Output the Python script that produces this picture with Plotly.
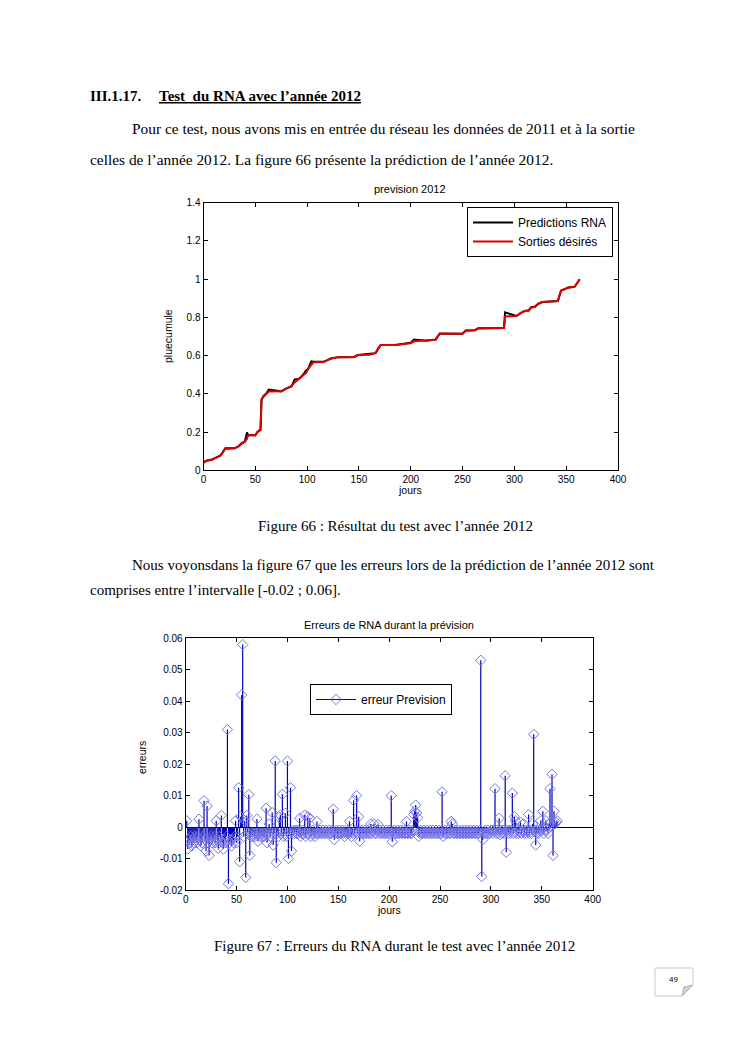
import plotly.graph_objects as go

# ---------------- data: figure 66 (cumulative rain) ----------------
days_cum = [0, 3, 8, 12, 16, 18, 21, 30, 34, 37, 40, 42, 43, 50, 52, 55, 56, 58, 61, 63,
            75, 79, 85, 88, 92, 96, 99, 101, 104, 106, 116, 119, 123, 130, 145, 149, 160, 166, 169, 171,
            185, 192, 200, 203, 215, 224, 228, 250, 253, 262, 265, 290, 291, 302, 306, 310, 314, 316, 320, 323,
            327, 342, 344, 345, 352, 358, 362, 363]
desired = [0.039, 0.05, 0.055, 0.065, 0.075, 0.09, 0.112, 0.115, 0.125, 0.14, 0.15, 0.165, 0.183, 0.183, 0.2, 0.21, 0.37, 0.385, 0.40, 0.412,
           0.413, 0.425, 0.44, 0.46, 0.478, 0.497, 0.51, 0.53, 0.555, 0.565, 0.566, 0.573, 0.585, 0.592, 0.592, 0.603, 0.605, 0.613, 0.64, 0.655,
           0.655, 0.66, 0.665, 0.675, 0.678, 0.683, 0.715, 0.715, 0.73, 0.733, 0.742, 0.745, 0.805, 0.807, 0.822, 0.833, 0.835, 0.852, 0.855, 0.87,
           0.88, 0.885, 0.925, 0.94, 0.955, 0.96, 0.99, 1.0]
predicted = [0.042, 0.05, 0.056, 0.066, 0.076, 0.09, 0.115, 0.115, 0.127, 0.142, 0.152, 0.198, 0.183, 0.183, 0.2, 0.215, 0.37, 0.39, 0.405, 0.422,
             0.413, 0.426, 0.44, 0.476, 0.478, 0.5, 0.522, 0.53, 0.57, 0.568, 0.568, 0.575, 0.585, 0.592, 0.593, 0.603, 0.607, 0.613, 0.642, 0.656,
             0.655, 0.66, 0.668, 0.684, 0.678, 0.685, 0.716, 0.715, 0.732, 0.733, 0.743, 0.745, 0.826, 0.807, 0.823, 0.834, 0.838, 0.852, 0.857, 0.872,
             0.88, 0.886, 0.926, 0.94, 0.956, 0.96, 0.99, 1.0]

# ---------------- data: figure 67 (errors) ----------------
err_days = list(range(1, 366))
errors = [
    0.002, -0.007, -0.004, -0.005, -0.003, -0.006, -0.004, -0.005, -0.003, -0.004,
    -0.005, -0.003, 0.0025, -0.004, -0.006, -0.005, -0.003, 0.0084, -0.004, -0.0076,
    0.0067, -0.005, -0.009, -0.004, -0.003, -0.005, -0.004, -0.003, -0.005, 0.002,
    -0.004, -0.0068, -0.003, -0.004, 0.0037, -0.005, -0.007, -0.004, -0.005, -0.003,
    0.031, -0.018, -0.005, -0.004, -0.006, -0.004, -0.005, -0.003, 0.002, -0.005,
    -0.003, 0.0125, -0.011, 0.0033, 0.042, 0.058, -0.003, 0.002, -0.016, 0.0037,
    -0.002, 0.0103, -0.009, -0.003, -0.002, -0.003, -0.002, -0.003, -0.002, 0.0026,
    -0.0045, -0.002, -0.003, -0.002, -0.003, -0.002, -0.003, -0.002, 0.006, -0.005,
    -0.002, 0.001, -0.003, -0.002, 0.0046, -0.0057, -0.002, 0.021, -0.0113, -0.002,
    -0.003, 0.003, 0.0038, -0.002, 0.0104, -0.003, -0.002, 0.0044, -0.003, 0.021,
    -0.01, -0.002, 0.0125, -0.0076, -0.002, -0.001, -0.002, -0.001, -0.002, -0.001,
    -0.002, 0.0028, -0.003, -0.002, -0.001, -0.002, 0.0038, -0.003, -0.002, 0.0033,
    -0.002, 0.0028, -0.003, -0.002, -0.001, -0.002, -0.003, -0.002, 0.0018, -0.002,
    -0.002, -0.001, -0.002, -0.002, -0.001, -0.002, -0.002, -0.001, -0.002, -0.002,
    -0.001, -0.002, -0.002, -0.001, 0.0057, -0.004, -0.002, -0.001, -0.002, -0.002,
    -0.001, -0.002, -0.002, -0.001, -0.002, -0.003, -0.002, -0.001, -0.002, -0.002,
    0.0018, -0.002, -0.003, -0.002, 0.0085, -0.002, -0.001, 0.01, -0.002, 0.0033,
    -0.0045, -0.002, -0.001, -0.002, -0.002, -0.001, -0.002, -0.002, -0.001, -0.002,
    -0.002, 0.001, -0.002, -0.001, 0.001, -0.002, -0.002, -0.001, 0.0008, -0.002,
    -0.001, -0.002, -0.002, -0.001, -0.002, -0.002, -0.001, -0.002, -0.002, -0.001,
    -0.002, 0.01, -0.0047, -0.002, -0.001, -0.002, -0.002, -0.001, -0.002, -0.002,
    -0.001, -0.002, -0.002, -0.001, -0.002, -0.002, 0.0018, -0.002, -0.002, -0.001,
    -0.002, -0.002, -0.001, 0.004, 0.005, 0.007, 0.0045, 0.003, -0.003, -0.002,
    -0.001, -0.002, -0.002, -0.001, -0.002, -0.002, -0.001, -0.002, -0.002, -0.001,
    -0.002, -0.002, -0.001, -0.002, -0.002, -0.001, -0.002, -0.002, -0.001, -0.002,
    -0.002, 0.0112, -0.003, -0.002, -0.001, -0.002, -0.002, -0.001, -0.002, -0.002,
    0.0018, 0.001, -0.002, -0.002, -0.001, -0.002, -0.002, -0.001, -0.002, -0.002,
    -0.001, -0.002, -0.002, -0.001, -0.002, -0.002, -0.001, -0.002, -0.002, -0.001,
    -0.002, -0.002, -0.001, -0.002, -0.002, -0.001, -0.002, -0.002, -0.001, 0.053,
    -0.0157, -0.004, -0.002, -0.001, -0.002, -0.002, -0.001, -0.002, -0.002, -0.001,
    -0.001, -0.002, -0.001, 0.0122, -0.002, -0.001, -0.002, 0.0028, -0.0024, -0.001,
    -0.002, -0.001, -0.002, 0.0163, -0.008, -0.001, -0.002, -0.001, -0.002, -0.001,
    0.0108, -0.002, 0.0033, 0.002, -0.002, -0.001, -0.002, -0.001, 0.0015, -0.002,
    -0.001, 0.001, -0.002, -0.001, -0.002, -0.001, 0.004, -0.002, -0.001, -0.002,
    0.001, 0.0295, -0.001, -0.0057, -0.002, -0.001, -0.002, -0.001, 0.002, -0.001,
    0.005, -0.002, -0.001, 0.002, -0.001, -0.002, 0.001, 0.0122, 0.0015, 0.0168,
    -0.009, 0.005, 0.001, 0.0015, 0.002,
]

x_ticks = [0, 50, 100, 150, 200, 250, 300, 350, 400]
y1_ticks = [0, 0.2, 0.4, 0.6, 0.8, 1.0, 1.2, 1.4]
y1_labels = ["0", "0.2", "0.4", "0.6", "0.8", "1", "1.2", "1.4"]
y2_ticks = [-0.02, -0.01, 0, 0.01, 0.02, 0.03, 0.04, 0.05, 0.06]
y2_labels = ["-0.02", "-0.01", "0", "0.01", "0.02", "0.03", "0.04", "0.05", "0.06"]

W, H = 744, 1053
def px(x):
    return x / W
def py(y):
    return 1 - y / H

SANS = "Liberation Sans, Arial, sans-serif"
SERIF = "Liberation Serif, Times New Roman, serif"

fig = go.Figure()

# figure 66
fig.add_trace(go.Scatter(x=days_cum, y=predicted, mode="lines", name="Predictions RNA",
                         line=dict(color="black", width=2), xaxis="x", yaxis="y", legend="legend"))
fig.add_trace(go.Scatter(x=days_cum, y=desired, mode="lines", name="Sorties désirés",
                         line=dict(color="#e00000", width=2), xaxis="x", yaxis="y", legend="legend"))

# figure 67 stems
up = [-v if v < 0 else 0 for v in errors]
down = [v if v > 0 else 0 for v in errors]
fig.add_trace(go.Scatter(x=err_days, y=errors, mode="markers", showlegend=False,
                         marker=dict(symbol="diamond-open", size=8, color="#7474e8", line=dict(width=1)),
                         error_y=dict(type="data", symmetric=False, array=up, arrayminus=down,
                                      width=0, thickness=1.2, color="#0000b4"),
                         xaxis="x2", yaxis="y2"))
fig.add_trace(go.Scatter(x=[None], y=[None], mode="lines+markers", name="erreur Prevision",
                         line=dict(color="#0000b4", width=1),
                         marker=dict(symbol="diamond-open", size=8, color="#7474e8"),
                         xaxis="x2", yaxis="y2", legend="legend2"))

axis_common = dict(showline=True, linecolor="black", linewidth=1, mirror="ticks",
                   ticks="inside", ticklen=4, tickcolor="black", showgrid=False,
                   automargin=False,
                   tickfont=dict(family=SANS, size=10, color="black"))

fig.update_layout(
    width=W, height=H, autosize=False,
    margin=dict(l=0, r=0, t=0, b=0, pad=0, autoexpand=False),
    paper_bgcolor="white", plot_bgcolor="white",
    xaxis=dict(domain=[px(203.5), px(618)], range=[0, 400], tickvals=x_ticks,
               zeroline=False, anchor="y", **axis_common),
    yaxis=dict(domain=[py(470.3), py(202.7)], range=[0, 1.4], tickvals=y1_ticks, ticktext=y1_labels,
               zeroline=False, anchor="x", **axis_common),
    xaxis2=dict(domain=[px(185.7), px(592.7)], range=[0, 400], tickvals=x_ticks,
                zeroline=False, anchor="y2", **axis_common),
    yaxis2=dict(domain=[py(890), py(638.3)], range=[-0.02, 0.06], tickvals=y2_ticks, ticktext=y2_labels,
                zeroline=True, zerolinecolor="black", zerolinewidth=1.2, anchor="x2", **axis_common),
    legend=dict(x=px(613), xanchor="right", y=py(207), yanchor="top",
                bordercolor="black", borderwidth=1, bgcolor="white", itemwidth=40,
                font=dict(family=SANS, size=12, color="black"), tracegroupgap=0),
    legend2=dict(x=px(310), xanchor="left", y=py(684), yanchor="top",
                 bordercolor="black", borderwidth=1, bgcolor="white", itemwidth=40,
                 font=dict(family=SANS, size=12, color="black")),
)

ann = []
def text(x, y, t, size=15, family=SERIF, xanchor="left", angle=0):
    ann.append(dict(x=px(x), y=py(y), xref="paper", yref="paper", text=t, showarrow=False,
                    xanchor=xanchor, yanchor="middle", textangle=angle,
                    font=dict(family=family, size=size, color="black")))

text(88, 96, "<b>III.1.17.</b>", 15)
text(157, 96, "<b><u>Test  du RNA avec l’année 2012</u></b>", 15)
text(130, 129, "Pour ce test, nous avons mis en entrée du réseau les données de 2011 et à la sortie", 15.4)
text(88, 159, "celles de l’année 2012. La figure 66 présente la prédiction de l’année 2012.", 15.4)
text(410, 189, "prevision 2012", 11, SANS, "center")
text(410, 490, "jours", 10.5, SANS, "center")
text(168, 336, "pluecumule", 10.5, SANS, "center", -90)
text(395, 526, "Figure 66 : Résultat du test avec l’année 2012", 15, SERIF, "center")
text(130, 565, "Nous voyonsdans la figure 67 que les erreurs lors de la prédiction de l’année 2012 sont", 15)
text(88, 590, "comprises entre l’intervalle [-0.02 ; 0.06].", 15)
text(389, 625, "Erreurs de RNA durant la prévision", 11, SANS, "center")
text(389, 910, "jours", 10.5, SANS, "center")
text(142, 758, "erreurs", 10.5, SANS, "center", -90)
text(394, 946, "Figure 67 : Erreurs du RNA durant le test avec l’année 2012", 15, SERIF, "center")
text(673, 979, "49", 8, SANS, "center")
fig.update_layout(annotations=ann)

# page number box with folded corner
fig.add_shape(type="path", xref="paper", yref="paper",
              path=f"M {px(655)} {py(968)} L {px(693)} {py(968)} L {px(693)} {py(985)} "
                   f"L {px(682)} {py(996)} L {px(655)} {py(996)} Z",
              line=dict(color="#c8c8c8", width=1), fillcolor="white")
fig.add_shape(type="path", xref="paper", yref="paper",
              path=f"M {px(693)} {py(985)} L {px(682)} {py(996)} L {px(684)} {py(987)} Z",
              line=dict(color="#b0b0b0", width=1), fillcolor="#d0d0d0")

fig.write_html("out.html", config={"displayModeBar": False},
               post_script="document.documentElement.style.overflow='hidden';"
                           "document.body.style.overflow='hidden';"
                           "document.body.style.margin='0';document.body.style.padding='0';")
